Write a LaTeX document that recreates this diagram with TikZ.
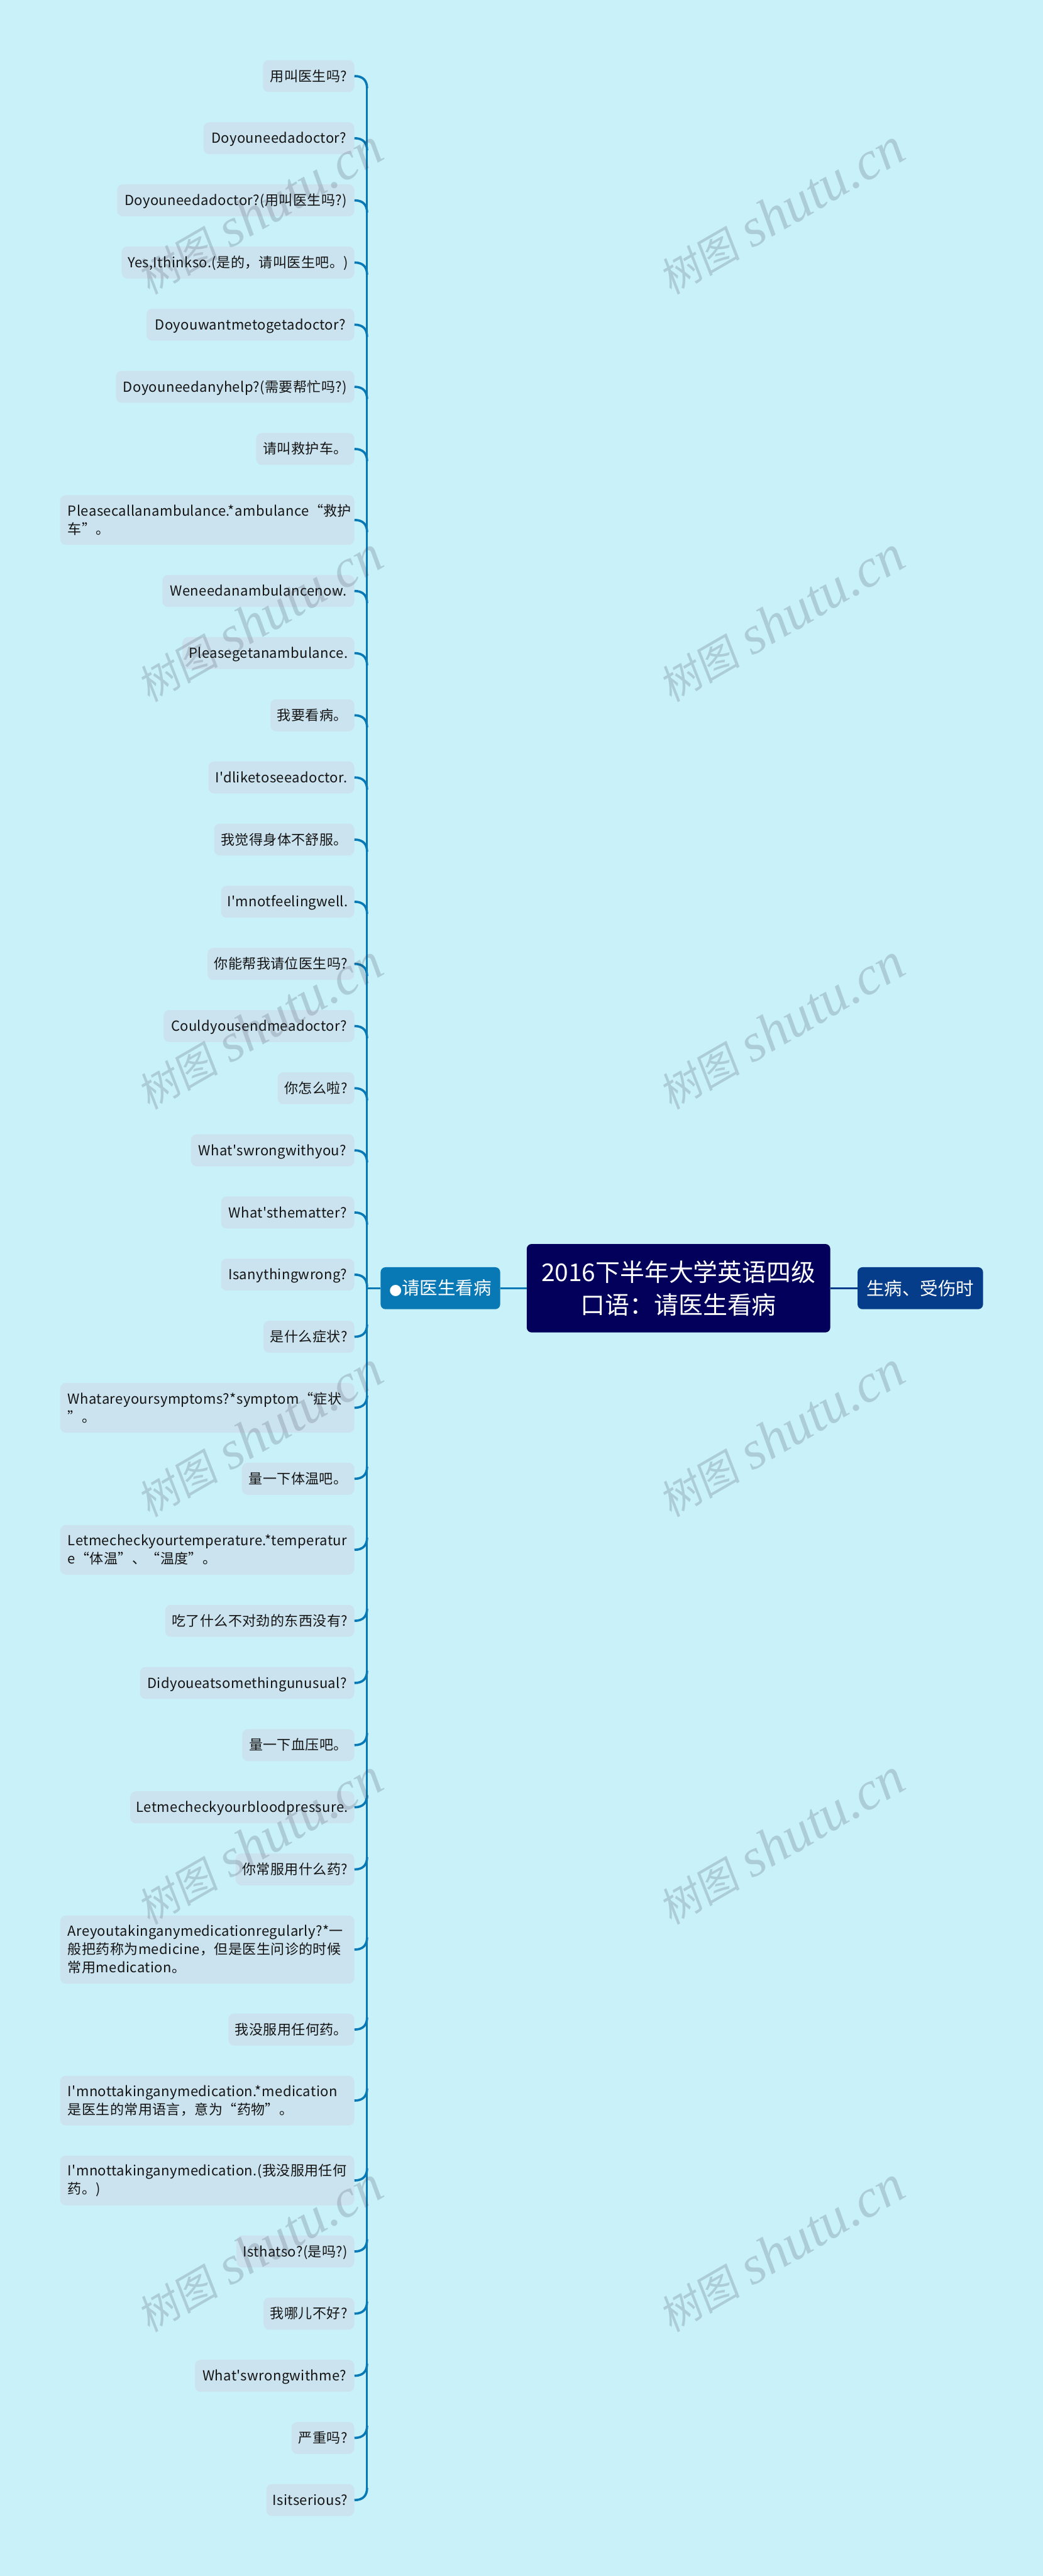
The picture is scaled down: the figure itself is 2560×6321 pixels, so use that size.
\documentclass[tikz,border=0pt]{standalone}
\usepackage{fontspec}
\newfontfamily\cn{Noto Sans CJK SC}
\newfontfamily\cnl[LetterSpace=1.8]{Noto Sans CJK SC}
\newfontfamily\dotfnt{DejaVu Sans}
\newfontfamily\wmlat{Liberation Serif}
\newfontfamily\wmcn[FakeSlant=0.15]{Noto Sans CJK SC}
\definecolor{bgc}{HTML}{C9F1F9}
\definecolor{leafc}{HTML}{CBE3EF}
\definecolor{rootc}{HTML}{03005C}
\definecolor{lbranch}{HTML}{0879B5}
\definecolor{rbranch}{HTML}{053D8A}
\definecolor{wmc}{HTML}{3C4050}
\tikzset{
  leaf/.style={anchor=north east,fill=leafc,rounded corners=7pt,inner xsep=2pt,inner ysep=0pt,text=black!92,font={\cnl\fontsize{17}{22.5}\selectfont}},
  lone/.style={leaf,minimum height=39.25pt,text height=15pt,text depth=2.5pt},
  ltwo/.style={leaf,align=left,minimum height=61pt},
  lthree/.style={leaf,align=left,minimum height=83.5pt},
  rootbox/.style={fill=rootc,rounded corners=6pt,text=white,align=center,minimum width=372.5pt,minimum height=108.5pt,inner sep=0pt,font={\cn\fontsize{30}{40}\selectfont}},
  subbox/.style={rounded corners=6pt,text=white,minimum height=51.5pt,inner sep=0pt,font={\cn\fontsize{22}{30}\selectfont}},
  branch/.style={draw=lbranch,line width=2.8pt},
  spine/.style={draw=lbranch,line width=2.4pt},
  stem/.style={draw=lbranch,line width=2pt},
  rbr/.style={draw=rbranch,line width=2pt},
  wm/.style={rotate=30,text=wmc,opacity=0.2,text opacity=0.2,inner sep=0pt}
}
\newcommand\leafn[5]{\node[#4,minimum width={(870-#3)*0.5pt}] (l#1) at (870,#2) {#5};}
\newcommand\fl[1]{\makebox[342pt][l]{#1}}
\newcommand\brdn[1]{\draw[branch] (l#1.east) .. controls +(22,0) and +(0,-18) .. +(31,30);}
\newcommand\brup[1]{\draw[branch] (l#1.east) .. controls +(22,0) and +(0,18) .. +(31,-30);}
\newcommand\wmark[3]{\node[wm] (w#1) at (#2,#3) {{\wmcn\fontsize{50}{50}\selectfont 树图}\hspace{15pt}{\wmlat\itshape\fontsize{66}{66}\selectfont shutu.cn}};}
\begin{document}
\begin{tikzpicture}[x=0.5pt,y=-0.5pt]
\path[use as bounding box,fill=bgc] (0,0) rectangle (2560,6321);

\leafn{1}{147}{646}{lone}{用叫医生吗?}
\leafn{2}{299.5}{500}{lone}{Doyouneedadoctor?}
\leafn{3}{452}{288}{lone}{Doyouneedadoctor?(用叫医生吗?)}
\leafn{4}{604.5}{299}{lone}{Yes,Ithinkso.(是的，请叫医生吧。)}
\leafn{5}{757}{360}{lone}{Doyouwantmetogetadoctor?}
\leafn{6}{909.5}{285}{lone}{Doyouneedanyhelp?(需要帮忙吗?)}
\leafn{7}{1062}{629}{lone}{请叫救护车。}
\leafn{8}{1214.5}{148}{ltwo}{\fl{Pleasecallanambulance.*ambulance“救护}\\车”。}
\leafn{9}{1410.5}{399}{lone}{Weneedanambulancenow.}
\leafn{10}{1563}{448}{lone}{Pleasegetanambulance.}
\leafn{11}{1715.5}{664}{lone}{我要看病。}
\leafn{12}{1868}{512}{lone}{I'dliketoseeadoctor.}
\leafn{13}{2020.5}{526}{lone}{我觉得身体不舒服。}
\leafn{14}{2173}{543}{lone}{I'mnotfeelingwell.}
\leafn{15}{2325.5}{510}{lone}{你能帮我请位医生吗?}
\leafn{16}{2478}{402}{lone}{Couldyousendmeadoctor?}
\leafn{17}{2630.5}{682}{lone}{你怎么啦?}
\leafn{18}{2783}{469}{lone}{What'swrongwithyou?}
\leafn{19}{2935.5}{543}{lone}{What'sthematter?}
\leafn{20}{3088}{543}{lone}{Isanythingwrong?}
\leafn{21}{3240.5}{647}{lone}{是什么症状?}
\leafn{22}{3393}{148}{ltwo}{\fl{Whatareyoursymptoms?*symptom“症状}\\”。}
\leafn{23}{3589}{594}{lone}{量一下体温吧。}
\leafn{24}{3741.5}{148}{ltwo}{\fl{Letmecheckyourtemperature.*temperatur}\\e“体温”、“温度”。}
\leafn{25}{3937.5}{406}{lone}{吃了什么不对劲的东西没有?}
\leafn{26}{4090}{344}{lone}{Didyoueatsomethingunusual?}
\leafn{27}{4242.5}{595}{lone}{量一下血压吧。}
\leafn{28}{4395}{320}{lone}{Letmecheckyourbloodpressure.}
\leafn{29}{4547.5}{579}{lone}{你常服用什么药?}
\leafn{30}{4700}{148}{lthree}{\fl{Areyoutakinganymedicationregularly?*一}\\般把药称为medicine，但是医生问诊的时候\\常用medication。}
\leafn{31}{4940.5}{561}{lone}{我没服用任何药。}
\leafn{32}{5093}{148}{ltwo}{\fl{I'mnottakinganymedication.*medication}\\是医生的常用语言，意为“药物”。}
\leafn{33}{5289}{148}{ltwo}{\fl{I'mnottakinganymedication.(我没服用任何}\\药。)}
\leafn{34}{5485}{581}{lone}{Isthatso?(是吗?)}
\leafn{35}{5637.5}{647}{lone}{我哪儿不好?}
\leafn{36}{5790}{479}{lone}{What'swrongwithme?}
\leafn{37}{5942.5}{716}{lone}{严重吗?}
\leafn{38}{6095}{654}{lone}{Isitserious?}

\node[rootbox] (root) at (1665.5,3161) {2016下半年大学英语四级\\口语：请医生看病};
\node[subbox,fill=lbranch,minimum width=146.75pt] (c1) at (1081,3161) {{\dotfnt\fontsize{18}{30}\selectfont ●}请医生看病};
\node[subbox,fill=rbranch,minimum width=154pt] (c2) at (2259,3161) {生病、受伤时};

\path (l1.east) ++(31,30) coordinate (sT);
\path (l38.east) ++(31,-30) coordinate (sB);
\draw[spine] (sT) -- (sB);
\foreach \i in {1,...,20} {\brdn{\i}}
\foreach \i in {21,...,38} {\brup{\i}}
\draw[stem] (root.west) -- (c1.east);
\draw[stem] (c1.west) -- (c1.west -| sT);
\draw[rbr] (root.east) -- (c2.west);

\wmark{1}{637}{520}\wmark{2}{637}{1520}\wmark{3}{637}{2520}\wmark{4}{637}{3520}\wmark{5}{637}{4520}\wmark{6}{637}{5520}
\wmark{7}{1918}{520}\wmark{8}{1918}{1520}\wmark{9}{1918}{2520}\wmark{10}{1918}{3520}\wmark{11}{1918}{4520}\wmark{12}{1918}{5520}
\end{tikzpicture}
\end{document}
